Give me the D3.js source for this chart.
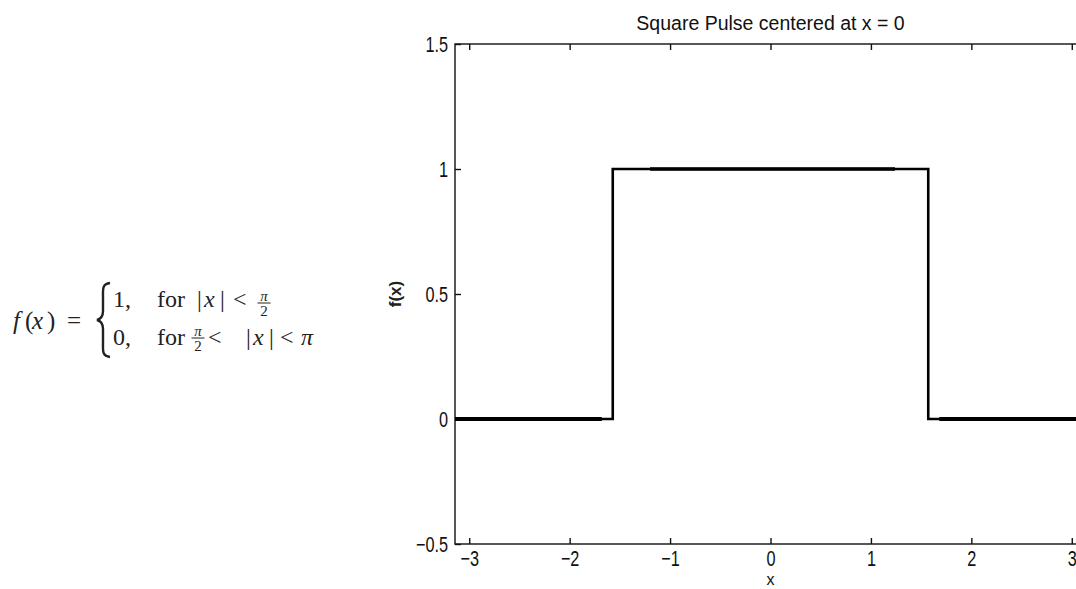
<!DOCTYPE html>
<html>
<head>
<meta charset="utf-8">
<script src="https://cdn.jsdelivr.net/npm/d3@7"></script>
<style>
body { margin: 0; background: #fff; }
svg { display: block; }
.sans { font-family: "Liberation Sans", Arial, sans-serif; }
.serif { font-family: "Liberation Serif", "DejaVu Serif", serif; }
</style>
</head>
<body>
<svg id="mysvg" width="1076" height="589"></svg>
<script>
// step curve of the square pulse
var pulseX = [-3.1416, -1.5708, -1.5708, 1.5708, 1.5708, 3.1416];
var pulseY = [0, 0, 1, 1, 0, 0];
// pieces that came out heavier in the original export
var heavyX = [[-3.1416, -1.68], [-1.2, 1.24], [1.68, 3.1416]];
var heavyY = [0, 1, 0];

var xTicks = [-3, -2, -1, 0, 1, 2, 3];
var yTicks = [-0.5, 0, 0.5, 1, 1.5];

var svg = d3.select("#mysvg");

var x = d3.scaleLinear().domain([-3.1416, 3.1416]).range([455, 1086]);
var y = d3.scaleLinear().domain([-0.5, 1.5]).range([544, 44]);

var fmt = d3.format("");

// box
svg.append("rect")
	.attr("x", x(-3.1416)).attr("y", y(1.5))
	.attr("width", x(3.1416) - x(-3.1416))
	.attr("height", y(-0.5) - y(1.5))
	.attr("fill", "none").attr("stroke", "#111").attr("stroke-width", 1.4);

function styleAxis(g) {
	g.select(".domain").remove();
	g.selectAll("line").attr("stroke", "#111").attr("stroke-width", 1.4);
	g.selectAll("text").attr("class", "sans").attr("font-size", 17.5).attr("fill", "#111");
}

// the exported labels are a tall, narrow face; stretch them a little
svg.append("g")
	.attr("transform", "translate(0," + y(-0.5) + ")")
	.call(d3.axisBottom(x).tickValues(xTicks).tickFormat(fmt).tickSizeInner(-6).tickSizeOuter(0))
	.call(styleAxis)
	.selectAll("text")
	.attr("y", 0).attr("dy", null)
	.attr("transform", "translate(0,22) scale(0.93,1.22)");

svg.append("g")
	.attr("transform", "translate(0," + y(1.5) + ")")
	.call(d3.axisTop(x).tickValues(xTicks).tickFormat("").tickSizeInner(-6).tickSizeOuter(0))
	.call(styleAxis);

svg.append("g")
	.attr("transform", "translate(" + x(-3.1416) + ",0)")
	.call(d3.axisLeft(y).tickValues(yTicks).tickFormat(fmt).tickSizeInner(-6).tickSizeOuter(0))
	.call(styleAxis)
	.selectAll("text")
	.attr("x", 0).attr("dy", null)
	.attr("transform", "translate(-7,7.5) scale(0.93,1.22)");

// the pulse
var line = d3.line().x(function (d) { return x(d[0]); }).y(function (d) { return y(d[1]); });
svg.append("path")
	.datum(d3.zip(pulseX, pulseY))
	.attr("d", line)
	.attr("fill", "none").attr("stroke", "#000")
	.attr("stroke-width", 2.6).attr("stroke-linejoin", "miter");

svg.selectAll(".heavy")
	.data(heavyX)
	.enter().append("line")
	.attr("class", "heavy")
	.attr("x1", function (d) { return x(d[0]); })
	.attr("x2", function (d) { return x(d[1]); })
	.attr("y1", function (d, i) { return y(heavyY[i]); })
	.attr("y2", function (d, i) { return y(heavyY[i]); })
	.attr("stroke", "#000")
	.attr("stroke-width", function (d, i) { return heavyY[i] === 0 ? 4.2 : 3.4; });

// labels
svg.append("text").attr("class", "sans")
	.attr("x", 770.5).attr("y", 30)
	.attr("text-anchor", "middle").attr("font-size", 19.5).attr("fill", "#111")
	.text("Square Pulse centered at x = 0");

svg.append("text").attr("class", "sans")
	.attr("transform", "translate(401,294) rotate(-90)")
	.attr("text-anchor", "middle").attr("font-size", 17).attr("font-weight", "bold").attr("fill", "#222")
	.text("f(x)");

svg.append("text").attr("class", "sans")
	.attr("x", 770.5).attr("y", 585)
	.attr("text-anchor", "middle").attr("font-size", 16).attr("fill", "#111")
	.text("x");

// piecewise definition on the left
var eq = svg.append("g").attr("class", "serif").attr("fill", "#222");

function put(tx, ty, s, italic, size) {
	eq.append("text").attr("x", tx).attr("y", ty)
		.attr("font-style", italic ? "italic" : "normal")
		.attr("font-size", size || 24)
		.text(s);
}
function frac(cx, barY) {
	eq.append("text").attr("x", cx).attr("y", barY - 2).attr("text-anchor", "middle")
		.attr("font-size", 15).attr("font-style", "italic").text("π");
	eq.append("line").attr("x1", cx - 6.5).attr("x2", cx + 6.5).attr("y1", barY).attr("y2", barY)
		.attr("stroke", "#222").attr("stroke-width", 1);
	eq.append("text").attr("x", cx).attr("y", barY + 13).attr("text-anchor", "middle")
		.attr("font-size", 15).text("2");
}

put(13, 329, "f", true, 25);
put(25, 329, "(", false, 25);
put(32, 329, "x", true, 25);
put(47, 329, ")", false, 25);
put(67, 329, "=", false, 25);

// brace
eq.append("path")
	.attr("d", "M110,283 C102,284 103,289 103,297 L103,311 C103,316 101,319 97,320 C101,321 103,324 103,329 L103,343 C103,351 102,356 110,357")
	.attr("fill", "none").attr("stroke", "#222").attr("stroke-width", 2.4);

put(113, 307, "1,");
put(157, 307, "for");
put(197, 307, "|");
put(204, 307, "x", true);
put(220, 307, "|");
put(233, 307, "<");
frac(264, 303);

put(113, 345, "0,");
put(157, 345, "for");
frac(198, 338);
put(208, 345, "<");
put(246, 345, "|");
put(253, 345, "x", true);
put(269, 345, "|");
put(280, 345, "<");
put(301, 345, "π", true);
</script>
</body>
</html>
